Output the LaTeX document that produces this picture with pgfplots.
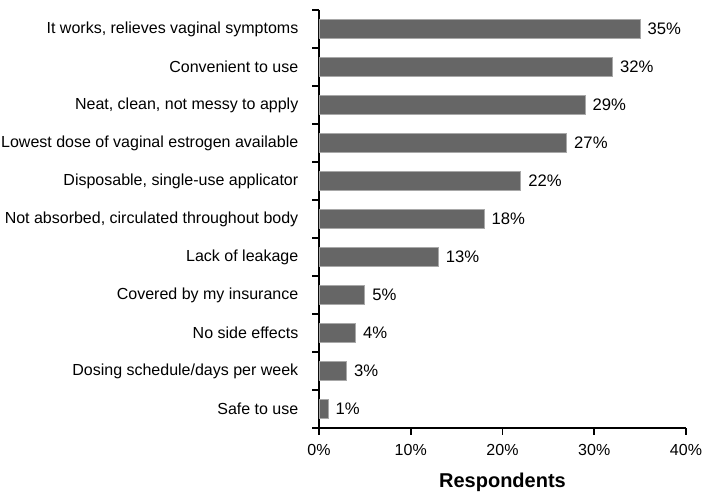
\documentclass[border=0pt]{standalone}
\usepackage{fontspec}
\setmainfont{Liberation Sans}
\usepackage{pgfplots}
\pgfplotsset{compat=1.18}
\definecolor{barfill}{HTML}{666666}
\definecolor{baredge}{HTML}{A8A8A8}
\begin{document}
\begin{tikzpicture}
\useasboundingbox (-239.25pt,-54pt) rectangle (292.5pt,321pt);
\begin{axis}[
  at={(0,0)}, anchor=south west,
  scale only axis,
  width=275.25pt, height=313.5pt,
  xbar, bar width=0.5,
  xmin=0, xmax=40,
  ymin=-0.5, ymax=10.5,
  axis x line*=bottom, axis y line*=left,
  axis line style={line width=1.2pt},
  tick align=outside,
  major tick length=5pt,
  tick style={line width=1.2pt, black},
  xtick={0,10,20,30,40},
  xticklabels={0\%,10\%,20\%,30\%,40\%},
  ytick={-0.5,0.5,...,10.5},
  yticklabels={},
  extra y ticks={0,1,2,3,4,5,6,7,8,9,10},
  extra y tick labels={Safe to use,Dosing schedule/days per week,No side effects,Covered by my insurance,Lack of leakage,{Not absorbed, circulated throughout body},{Disposable, single-use applicator},Lowest dose of vaginal estrogen available,{Neat, clean, not messy to apply},Convenient to use,{It works, relieves vaginal symptoms}},
  extra y tick style={tick style={draw=none}, tick label style={xshift=-7pt}},
  tick label style={font=\fontsize{12}{14}\selectfont},
  x tick label style={yshift=-4pt},
  /pgf/number format/assume math mode=true,
  xlabel={\textbf{Respondents}},
  xlabel style={font=\fontsize{15}{17}\selectfont, yshift=-6pt},
  nodes near coords={\pgfmathprintnumber{\pgfplotspointmeta}\%},
  every node near coord/.append style={anchor=west, xshift=2pt, font=\fontsize{12.5}{14}\selectfont, black},
  clip=false,
]
\addplot[fill=barfill, draw=baredge, line width=0.6pt] coordinates {
  (1,0) (3,1) (4,2) (5,3) (13,4) (18,5) (22,6) (27,7) (29,8) (32,9) (35,10)
};
\end{axis}
\end{tikzpicture}
\end{document}
